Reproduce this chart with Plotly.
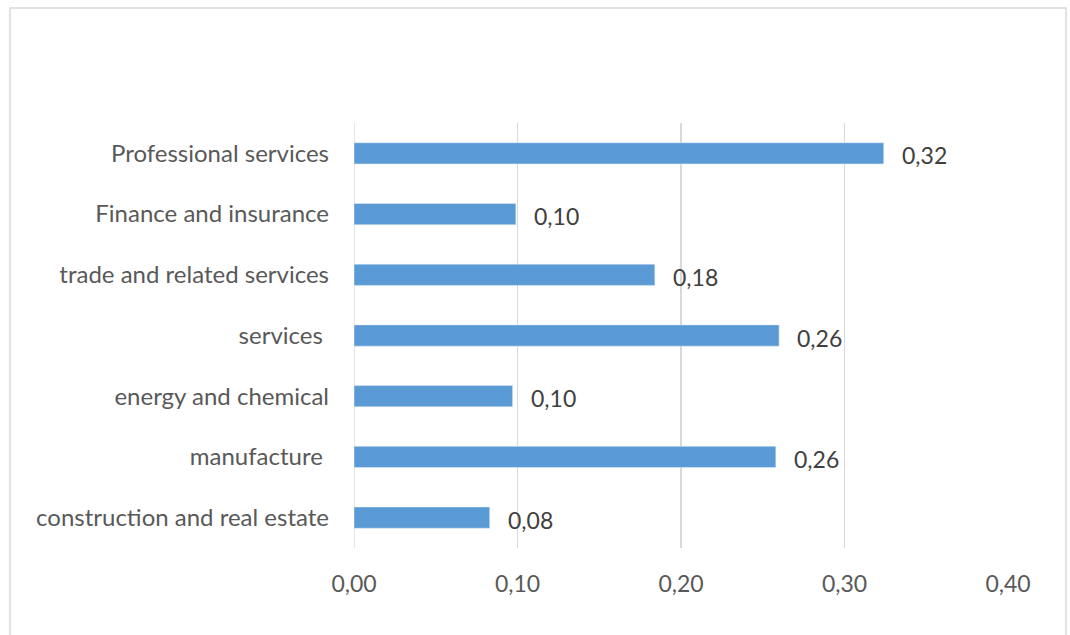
import plotly.graph_objects as go

categories = [
    "construction and real estate",
    "manufacture ",
    "energy and chemical",
    "services ",
    "trade and related services",
    "Finance and insurance",
    "Professional services",
]
values = [0.083, 0.258, 0.097, 0.260, 0.184, 0.099, 0.324]
tick_vals = [0.0, 0.1, 0.2, 0.3, 0.4]
tick_text = ["0,00", "0,10", "0,20", "0,30", "0,40"]

FONT = "Lato, Calibri, Carlito, sans-serif"

fig = go.Figure(
    go.Bar(
        x=values,
        y=categories,
        orientation="h",
        marker=dict(color="#5B9BD5"),
        width=0.35,
        hoverinfo="skip",
    )
)

for v, c in zip(values, categories):
    fig.add_annotation(
        x=v, y=c, xref="x", yref="y",
        text=f"{v:.2f}".replace(".", ","),
        showarrow=False, xanchor="left", yanchor="middle",
        xshift=16, yshift=-2,
        font=dict(family=FONT, size=23, color="#404040"),
    )

fig.update_layout(
    width=1070,
    height=635,
    margin=dict(l=354, r=62, t=123, b=87),
    paper_bgcolor="white",
    plot_bgcolor="white",
    showlegend=False,
    font=dict(family=FONT, size=23, color="#595959"),
    xaxis=dict(
        range=[0, 0.4],
        tickvals=tick_vals,
        ticktext=tick_text,
        showgrid=True,
        gridcolor="#D9D9D9",
        gridwidth=1.3,
        zeroline=False,
        showline=False,
        ticks="",
        ticklabelstandoff=20,
        tickfont=dict(family=FONT, size=23, color="#595959"),
        fixedrange=True,
    ),
    yaxis=dict(
        showgrid=False,
        zeroline=False,
        showline=False,
        ticks="",
        ticklabelstandoff=24,
        tickfont=dict(family=FONT, size=24, color="#595959"),
        fixedrange=True,
    ),
    shapes=[
        dict(
            type="line", xref="x", yref="paper",
            x0=0, x1=0, y0=0, y1=1,
            line=dict(color="#D9D9D9", width=1.3),
            layer="below",
        ),
        dict(
            type="rect", xref="paper", yref="paper",
            x0=-0.526, x1=1.0887, y0=-0.25, y1=1.2706,
            line=dict(color="#D9D9D9", width=1.5),
            fillcolor="rgba(0,0,0,0)",
        ),
    ],
)

fig.write_html(
    "out.html",
    config={"displayModeBar": False, "staticPlot": True},
    post_script="document.body.style.margin='0';document.body.style.overflow='hidden';",
)
